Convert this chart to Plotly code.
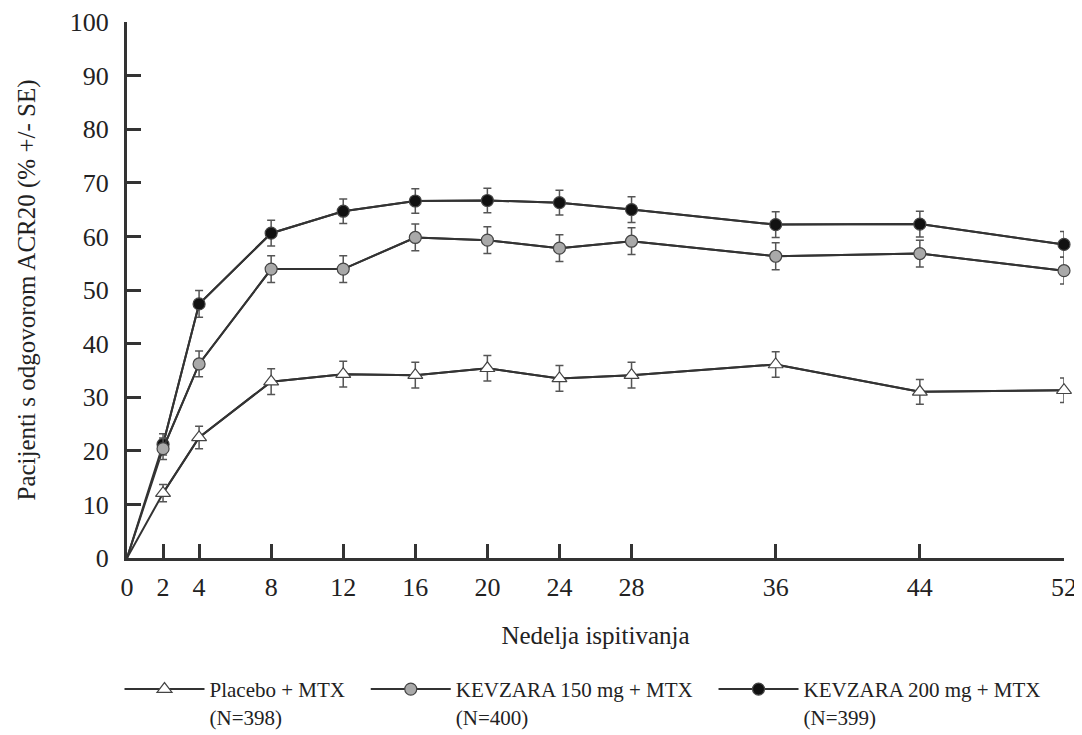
import plotly.graph_objects as go

weeks = [0, 2, 4, 8, 12, 16, 20, 24, 28, 36, 44, 52]
tick_weeks = [0, 2, 4, 8, 12, 16, 20, 24, 28, 36, 44, 52]
y_ticks = [0, 10, 20, 30, 40, 50, 60, 70, 80, 90, 100]

placebo = [0, 12.1, 22.5, 32.9, 34.3, 34.1, 35.4, 33.5, 34.1, 36.1, 31.0, 31.3]
placebo_se = [0, 1.6, 2.1, 2.4, 2.4, 2.4, 2.4, 2.4, 2.4, 2.4, 2.3, 2.3]
kev150 = [0, 20.4, 36.2, 53.9, 53.9, 59.8, 59.3, 57.8, 59.1, 56.3, 56.8, 53.6]
kev150_se = [0, 2.0, 2.4, 2.5, 2.5, 2.5, 2.5, 2.5, 2.5, 2.5, 2.5, 2.5]
kev200 = [0, 21.2, 47.4, 60.6, 64.7, 66.6, 66.7, 66.3, 65.0, 62.2, 62.3, 58.5]
kev200_se = [0, 2.0, 2.5, 2.4, 2.3, 2.3, 2.3, 2.3, 2.4, 2.4, 2.4, 2.4]

names = ["Placebo + MTX&nbsp;&nbsp;&nbsp;<br>(N=398)",
         "KEVZARA 150 mg + MTX&nbsp;&nbsp;&nbsp;<br>(N=400)",
         "KEVZARA 200 mg + MTX<br>(N=399)"]

FONT = "Liberation Serif"
LINE = "#333333"
ERR = "#555555"
TXT = "#222222"

series = [
    # draw order: 200 first, then 150, then placebo
    dict(y=kev200, se=kev200_se, name=names[2], symbol="circle", fill="#111111", size=12, rank=3),
    dict(y=kev150, se=kev150_se, name=names[1], symbol="circle", fill="#a9a9a9", size=12, rank=2),
    dict(y=placebo, se=placebo_se, name=names[0], symbol="triangle-up", fill="#ffffff", size=13, rank=1),
]

fig = go.Figure()
for s in series:
    fig.add_trace(go.Scatter(
        x=weeks, y=s["y"], mode="lines",
        line=dict(color=LINE, width=2),
        showlegend=False, hoverinfo="skip", legendgroup=s["name"],
        cliponaxis=False,
    ))
    fig.add_trace(go.Scatter(
        x=weeks[1:], y=s["y"][1:], mode="lines+markers", name=s["name"],
        line=dict(color=LINE, width=2),
        marker=dict(symbol=s["symbol"], size=s["size"], color=s["fill"],
                    line=dict(color="#444444", width=1.2)),
        error_y=dict(type="data", array=s["se"][1:], color=ERR, thickness=1.5, width=4),
        legendgroup=s["name"], legendrank=s["rank"],
        cliponaxis=False,
    ))

axis_common = dict(
    showline=True, linecolor="#333333", linewidth=3,
    ticks="inside", ticklen=14, tickwidth=2.5, tickcolor="#333333",
    showgrid=False, zeroline=False,
    tickfont=dict(family=FONT, size=26, color=TXT),
)

# page has an 8px body margin; figure is offset so the plot lands where the reference has it
fig.update_layout(
    width=1074, height=735,
    paper_bgcolor="white", plot_bgcolor="white",
    margin=dict(l=119, r=18, t=14, b=185, autoexpand=False),
    font=dict(family=FONT, color=TXT),
    xaxis=dict(range=[0, 52], tickvals=tick_weeks, ticktext=[str(w) for w in tick_weeks],
               title=dict(text="Nedelja ispitivanja", font=dict(family=FONT, size=25, color=TXT), standoff=26),
               automargin=False, ticklabelstandoff=4, **axis_common),
    yaxis=dict(range=[0, 100], tickvals=y_ticks,
               title=dict(text="Pacijenti s odgovorom ACR20 (% +/- SE)", font=dict(family=FONT, size=25, color=TXT), standoff=28),
               automargin=False, ticklabelstandoff=10, **axis_common),
    legend=dict(orientation="h", x=-0.008, xanchor="left", y=-0.207, yanchor="top",
                font=dict(family=FONT, size=21, color=TXT),
                valign="top", traceorder="normal", itemwidth=80,
                bgcolor="rgba(0,0,0,0)"),
)

fig.write_html("out.html")
